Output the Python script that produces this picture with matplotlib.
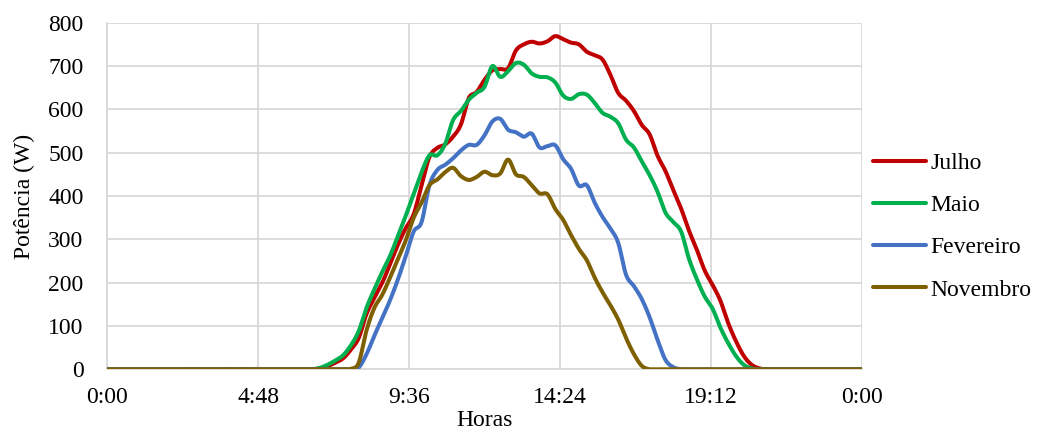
import numpy as np
import matplotlib
matplotlib.use("Agg")
import matplotlib.pyplot as plt

# Daytime samples every 15 minutes, 6:00 .. 21:00 (power is zero outside this window)
hours = np.arange(6.0, 21.0 + 1e-9, 0.25)

julho = [0, 0, 0, 2, 7, 15, 25, 45, 72, 128, 165, 200, 243, 288, 326, 358,
         425, 490, 511, 519, 537, 565, 626, 640, 668, 690, 693, 695, 736, 750,
         756, 752, 757, 769, 762, 754, 750, 733, 725, 715, 680, 638, 620, 596,
         564, 542, 493, 458, 414, 371, 320, 276, 228, 195, 158, 106, 64, 30,
         10, 2, 0]
maio = [0, 0, 0, 3, 10, 20, 32, 55, 88, 142, 185, 225, 262, 308, 355, 405,
        455, 494, 494, 520, 575, 596, 622, 638, 652, 700, 675, 688, 707, 703,
        683, 675, 674, 662, 632, 624, 635, 634, 615, 592, 583, 568, 530, 512,
        480, 448, 410, 362, 340, 318, 255, 208, 168, 140, 96, 60, 30, 10,
        2, 0, 0]
fevereiro = [0, 0, 0, 0, 0, 0, 0, 0, 4, 35, 78, 118, 160, 208, 262, 318,
             340, 425, 460, 472, 487, 505, 518, 518, 540, 572, 578, 553, 547, 537,
             544, 512, 515, 517, 485, 463, 424, 425, 385, 352, 325, 292, 218, 192,
             162, 120, 68, 22, 5, 0, 0, 0, 0, 0, 0, 0, 0, 0,
             0, 0, 0]
novembro = [0, 0, 0, 0, 0, 0, 0, 1, 15, 90, 142, 172, 212, 255, 298, 350,
            385, 425, 438, 455, 465, 446, 437, 444, 456, 448, 452, 484, 450, 444,
            425, 406, 404, 370, 345, 310, 278, 252, 212, 178, 148, 115, 72, 35,
            8, 0, 0, 0, 0, 0, 0, 0, 0, 0, 0, 0, 0, 0,
            0, 0, 0]

series_names = ["Julho", "Maio", "Fevereiro", "Novembro"]
series_colors = ["#C00000", "#00B050", "#4472C4", "#7F6000"]

x_ticks = [0, 4.8, 9.6, 14.4, 19.2, 24]
x_tick_labels = ["0:00", "4:48", "9:36", "14:24", "19:12", "0:00"]
y_ticks = [0, 100, 200, 300, 400, 500, 600, 700, 800]


def smooth_curve(t, y, n=12):
    """Catmull-Rom smoothing through the sample points."""
    t = np.asarray(t, float)
    y = np.asarray(y, float)
    yp = np.concatenate([[y[0]], y, [y[-1]]])
    ts, ys = [], []
    s = np.linspace(0, 1, n, endpoint=False)
    for i in range(len(y) - 1):
        p0, p1, p2, p3 = yp[i], yp[i + 1], yp[i + 2], yp[i + 3]
        v = 0.5 * (2 * p1 + (-p0 + p2) * s
                   + (2 * p0 - 5 * p1 + 4 * p2 - p3) * s ** 2
                   + (-p0 + 3 * p1 - 3 * p2 + p3) * s ** 3)
        ts.append(t[i] + (t[i + 1] - t[i]) * s)
        ys.append(v)
    ts.append([t[-1]])
    ys.append([y[-1]])
    return np.concatenate(ts), np.clip(np.concatenate(ys), 0, None)


plt.rcParams["font.family"] = ["Liberation Serif", "DejaVu Serif"]
FS = 17

fig = plt.figure(figsize=(10.38, 4.32), dpi=100)
ax = fig.add_axes([107 / 1038, 1 - 369.3 / 432, (862 - 107) / 1038, (369.3 - 22.7) / 432])

grid_color = "#d9d9d9"
for values, name, color in zip([julho, maio, fevereiro, novembro], series_names, series_colors):
    t_full = np.concatenate([[0.0], hours, [24.0]])
    y_full = np.concatenate([[0.0], values, [0.0]])
    ts, ys = smooth_curve(t_full, y_full)
    ax.plot(ts, ys, color=color, lw=2.9, label=name, solid_capstyle="round",
            solid_joinstyle="round", zorder=3)

ax.set_xlim(0, 24)
ax.set_ylim(0, 800)
ax.set_xticks(x_ticks)
ax.set_xticklabels(x_tick_labels)
ax.set_yticks(y_ticks)
ax.tick_params(axis="both", length=0, labelsize=FS, colors="black")
ax.tick_params(axis="y", pad=17)
ax.tick_params(axis="x", pad=12.5)
ax.grid(True, color=grid_color, lw=1.3)
ax.set_axisbelow(True)
for side in ["top", "right"]:
    ax.spines[side].set_visible(False)
for side in ["left", "bottom"]:
    ax.spines[side].set_color(grid_color)
    ax.spines[side].set_linewidth(1.3)

ax.set_xlabel("Horas", fontsize=FS, labelpad=2)
ax.set_ylabel("Potência (W)", fontsize=FS, labelpad=9)

leg = fig.legend(loc="upper left", bbox_to_anchor=(873 / 1038, 1 - 152.5 / 432),
                 frameon=False, fontsize=FS, handlelength=2.25,
                 handletextpad=0.17, labelspacing=0.875, borderaxespad=0,
                 borderpad=0)
for line in leg.get_lines():
    line.set_linewidth(2.9)

fig.savefig("out.png", dpi=100)
